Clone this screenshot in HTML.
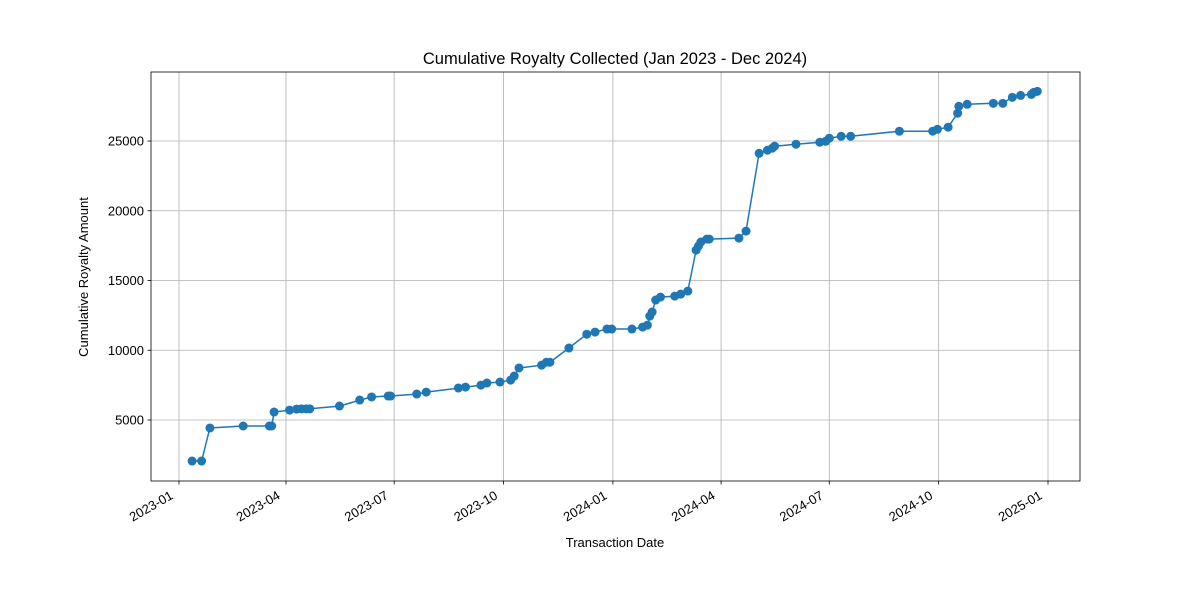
<!DOCTYPE html>
<html><head><meta charset="utf-8"><style>
body{margin:0;background:#fff;}
svg{display:block;font-family:"Liberation Sans","DejaVu Sans",sans-serif;}
</style></head><body>
<svg id="chart" width="1200" height="600"></svg>
<script>
const dates=["2023-01-12","2023-01-20","2023-01-27","2023-02-24","2023-03-18","2023-03-20","2023-03-22","2023-04-04","2023-04-10","2023-04-14","2023-04-18","2023-04-21","2023-05-16","2023-06-02","2023-06-12","2023-06-26","2023-06-28","2023-07-20","2023-07-28","2023-08-24","2023-08-30","2023-09-12","2023-09-17","2023-09-28","2023-10-07","2023-10-10","2023-10-14","2023-11-02","2023-11-06","2023-11-09","2023-11-25","2023-12-10","2023-12-17","2023-12-27","2023-12-31","2024-01-17","2024-01-26","2024-01-30","2024-02-01","2024-02-03","2024-02-06","2024-02-10","2024-02-22","2024-02-27","2024-03-04","2024-03-11","2024-03-13","2024-03-15","2024-03-20","2024-03-22","2024-04-16","2024-04-22","2024-05-03","2024-05-10","2024-05-14","2024-05-16","2024-06-03","2024-06-23","2024-06-28","2024-07-01","2024-07-11","2024-07-19","2024-08-29","2024-09-26","2024-09-30","2024-10-09","2024-10-17","2024-10-18","2024-10-25","2024-11-16","2024-11-24","2024-12-02","2024-12-09","2024-12-18","2024-12-20","2024-12-23"];
const values=[2060,2060,4430,4570,4570,4570,5570,5710,5780,5800,5800,5800,6000,6430,6650,6720,6720,6860,7000,7290,7360,7500,7650,7720,7860,8150,8730,8930,9140,9140,10160,11150,11300,11520,11520,11520,11660,11800,12450,12740,13600,13810,13880,14020,14240,17180,17470,17760,17970,17970,18040,18540,24120,24340,24480,24630,24770,24910,24980,25200,25340,25340,25700,25700,25840,25990,26990,27490,27630,27700,27700,28130,28270,28340,28490,28560];
const xTickDates=["2023-01","2023-04","2023-07","2023-10","2024-01","2024-04","2024-07","2024-10","2025-01"];
const yTicks=[5000,10000,15000,20000,25000];

const NS="http://www.w3.org/2000/svg";
const svg=document.getElementById('chart');
const L=151,R=1080,T=72,B=481;
const t0=Date.UTC(2023,0,1),t1=Date.UTC(2025,0,1);
function xs(d){const p=d.split('-');const t=Date.UTC(+p[0],+p[1]-1,p[2]?+p[2]:1);return 179+(t-t0)/(t1-t0)*(1048-179);}
function ys(v){return 420-(v-5000)/5000*69.75;}
function el(tag,attrs,parent){const e=document.createElementNS(NS,tag);for(const k in attrs)e.setAttribute(k,attrs[k]);(parent||svg).appendChild(e);return e;}

const grid=el('g',{});


xTickDates.forEach(d=>{const x=xs(d);
  const g=el('line',{x1:x,x2:x,y1:T,y2:B,stroke:'#b0b0b0','stroke-width':0.8},grid);
  
  
  el('line',{x1:x,x2:x,y1:B,y2:B+3.5,stroke:'#000','stroke-width':0.8});
  const lx=x-5,ly=B+17;
  const tx=el('text',{x:lx,y:ly,'font-size':13,'text-anchor':'end',transform:`rotate(-30 ${lx} ${ly})`});
  
  
  tx.textContent=d;
});
yTicks.forEach(v=>{const y=ys(v);
  const g=el('line',{x1:L,x2:R,y1:y,y2:y,stroke:'#b0b0b0','stroke-width':0.8},grid);
  
  
  el('line',{x1:L-3.5,x2:L,y1:y,y2:y,stroke:'#000','stroke-width':0.8});
  const tx=el('text',{x:L-7,y:y+4.5,'font-size':13,'text-anchor':'end'});
  
  
  tx.textContent=v;
});
const frame=el('rect',{x:L,y:T,width:R-L,height:B-T,fill:'none',stroke:'#000','stroke-width':0.8});



const pts=dates.map((d,i)=>xs(d).toFixed(1)+','+ys(values[i]).toFixed(1)).join(' ');
const line=el('polyline',{points:pts,fill:'none',stroke:'#1f77b4','stroke-width':1.5});


dates.forEach((d,i)=>{
  const c=el('circle',{cx:xs(d),cy:ys(values[i]),r:4.5,fill:'#1f77b4'});
  
  
});

const title=el('text',{x:615,y:64,'font-size':16.5,'text-anchor':'middle'});


title.textContent='Cumulative Royalty Collected (Jan 2023 - Dec 2024)';
const xt=el('text',{x:615,y:547,'font-size':13,'text-anchor':'middle'});


xt.textContent='Transaction Date';
const yt=el('text',{x:88,y:277,'font-size':13,'text-anchor':'middle',transform:'rotate(-90 88 277)'});


yt.textContent='Cumulative Royalty Amount';
</script>
</body></html>
